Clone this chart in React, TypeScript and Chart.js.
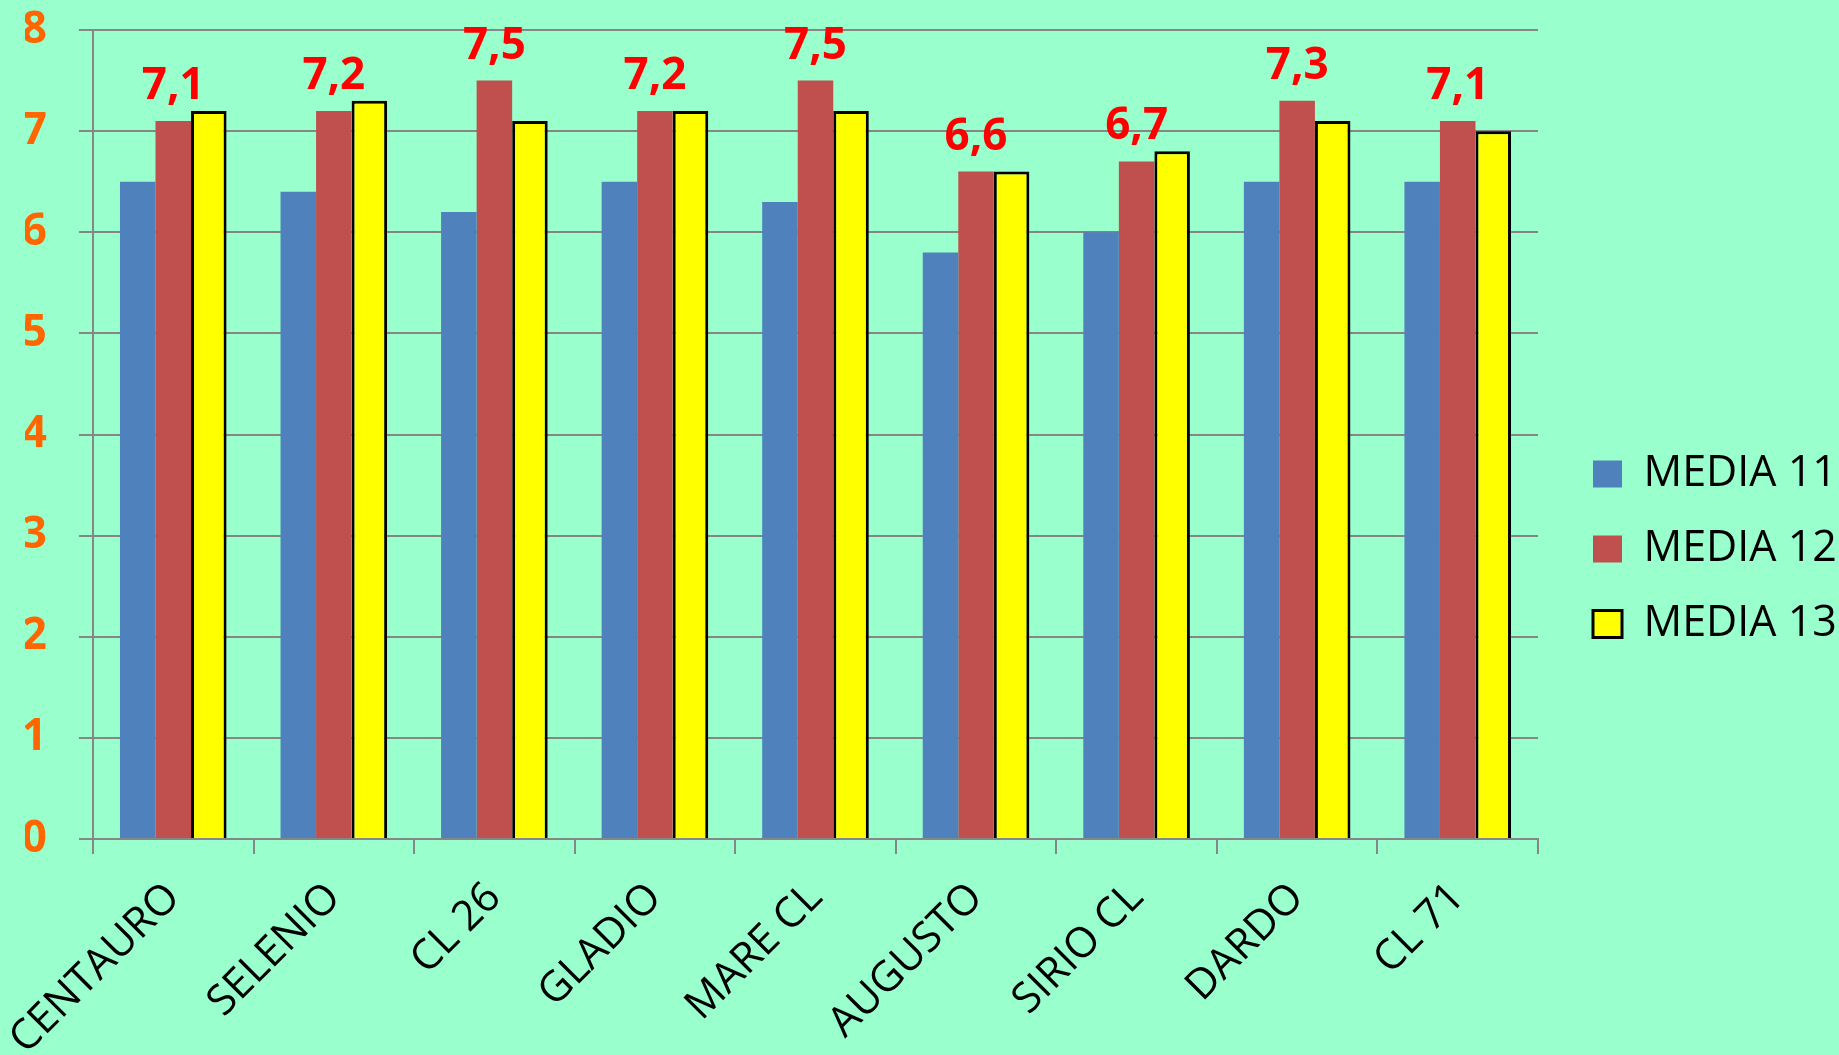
import React, { useEffect, useRef } from 'react';
import { Chart, registerables } from 'chart.js';

Chart.register(...registerables);

const categories = ['CENTAURO', 'SELENIO', 'CL 26', 'GLADIO', 'MARE CL', 'AUGUSTO', 'SIRIO CL', 'DARDO', 'CL 71'];
const media11 = [6.5, 6.4, 6.2, 6.5, 6.3, 5.8, 6.0, 6.5, 6.5];
const media12 = [7.1, 7.2, 7.5, 7.2, 7.5, 6.6, 6.7, 7.3, 7.1];
const media13 = [7.2, 7.3, 7.1, 7.2, 7.2, 6.6, 6.8, 7.1, 7.0];
const seriesNames = ['MEDIA 11', 'MEDIA 12', 'MEDIA 13'];
const yMin = 0;
const yMax = 8;
const yStep = 1;

const BG = '#99FFCC';
const GRID = '#868686';
const FONT = '"Open Sans", "DejaVu Sans", sans-serif';
const CANVAS_W = 1839;
const CANVAS_H = 1068;

const bgPlugin = {
  id: 'bgFill',
  beforeDraw(chart: any) {
    const { ctx, width, height } = chart;
    ctx.save();
    ctx.fillStyle = BG;
    ctx.fillRect(0, 0, width, height);
    ctx.restore();
  },
};

const valueLabelPlugin = {
  id: 'valueLabels',
  afterDatasetsDraw(chart: any) {
    const { ctx } = chart;
    const meta = chart.getDatasetMeta(1);
    const data = chart.data.datasets[1].data as number[];
    ctx.save();
    ctx.font = `bold 44px ${FONT}`;
    ctx.fillStyle = '#FF0000';
    ctx.textAlign = 'center';
    ctx.textBaseline = 'alphabetic';
    meta.data.forEach((el: any, i: number) => {
      const txt = data[i].toFixed(1).replace('.', ',');
      ctx.fillText(txt, el.x, el.y - 22);
    });
    ctx.restore();
  },
};

const zeroPad = (s: any) => {
  s.paddingTop = 0;
  s.paddingBottom = 0;
  s.paddingLeft = 0;
  s.paddingRight = 0;
};

export default function App() {
  const ref = useRef<HTMLCanvasElement | null>(null);

  useEffect(() => {
    if (!ref.current) return;
    const chart = new Chart(ref.current, {
      type: 'bar',
      data: {
        labels: categories,
        datasets: [
          { label: seriesNames[0], data: media11, backgroundColor: '#4F81BD', borderWidth: 0 },
          { label: seriesNames[1], data: media12, backgroundColor: '#C0504D', borderWidth: 0 },
          { label: seriesNames[2], data: media13, backgroundColor: '#FFFF00', borderColor: '#000000', borderWidth: 3 },
        ],
      },
      options: {
        responsive: false,
        animation: false,
        devicePixelRatio: 1,
        layout: { padding: { left: 25, top: 30, right: 0, bottom: 0 } },
        datasets: { bar: { categoryPercentage: 0.664, barPercentage: 1 } },
        plugins: {
          tooltip: { enabled: false },
          legend: {
            position: 'right',
            align: 'center',
            maxWidth: 278,
            labels: {
              boxWidth: 29,
              boxHeight: 27,
              padding: 32,
              color: '#000000',
              font: { family: FONT, size: 43 },
            },
          },
        },
        scales: {
          x: {
            z: 1,
            grid: { display: true, drawOnChartArea: false, drawTicks: true, tickLength: 15, color: GRID, lineWidth: 2, offset: true },
            border: { display: true, color: GRID, width: 2 },
            ticks: {
              color: '#000000',
              font: { family: FONT, size: 42 },
              minRotation: 45,
              maxRotation: 45,
              autoSkip: false,
              padding: 19,
            },
            afterFit: (s: any) => { s.height = CANVAS_H - 839; zeroPad(s); },
          },
          y: {
            min: yMin,
            max: yMax,
            ticks: { stepSize: yStep, color: '#FF6600', font: { family: FONT, size: 44, weight: 'bold' }, padding: 32 },
            grid: { color: GRID, lineWidth: 2, tickLength: 14 },
            border: { display: true, color: GRID, width: 2 },
            afterFit: (s: any) => { s.width = 68; zeroPad(s); },
          },
          y2: {
            type: 'linear',
            position: 'right',
            display: true,
            grid: { display: false },
            ticks: { display: false },
            border: { display: false },
            afterFit: (s: any) => { s.width = 23; zeroPad(s); },
          },
        },
      },
      plugins: [bgPlugin, valueLabelPlugin],
    });
    return () => chart.destroy();
  }, []);

  return (
    <div style={{ position: 'fixed', left: 0, top: 0, width: 1839, height: 1055, overflow: 'hidden', background: BG }}>
      <canvas ref={ref} width={CANVAS_W} height={CANVAS_H} style={{ display: 'block' }} />
    </div>
  );
}
